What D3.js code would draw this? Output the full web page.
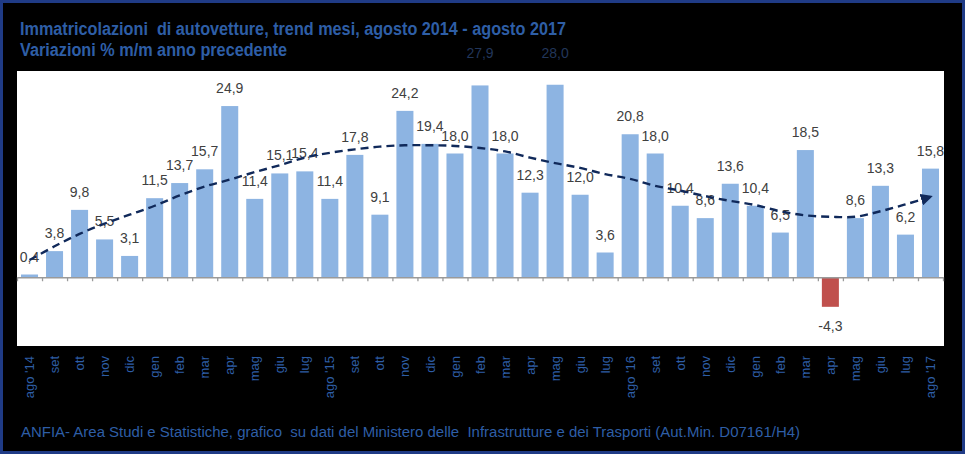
<!DOCTYPE html>
<html>
<head>
<meta charset="utf-8">
<script src="https://cdn.jsdelivr.net/npm/d3@7"></script>
<style>
  body { margin: 0; background: #000; }
  svg { display: block; }
</style>
</head>
<body>
<div id="chart"></div>
<script>
// months on the x axis
var months = ["ago '14", "set", "ott", "nov", "dic", "gen", "feb", "mar", "apr", "mag", "giu", "lug",
              "ago '15", "set", "ott", "nov", "dic", "gen", "feb", "mar", "apr", "mag", "giu", "lug",
              "ago '16", "set", "ott", "nov", "dic", "gen", "feb", "mar", "apr", "mag", "giu", "lug",
              "ago '17"];

// % change vs same month of previous year
var values = [0.4, 3.8, 9.8, 5.5, 3.1, 11.5, 13.7, 15.7, 24.9, 11.4, 15.1, 15.4,
              11.4, 17.8, 9.1, 24.2, 19.4, 18.0, 27.9, 18.0, 12.3, 28.0, 12.0, 3.6,
              20.8, 18.0, 10.4, 8.6, 13.6, 10.4, 6.5, 18.5, -4.3, 8.6, 13.3, 6.2,
              15.8];

// dashed trend arrow
var trend = [2.5, 4.5, 6.3, 7.8, 9.1, 10.4, 11.9, 13.2, 14.2, 15.3, 16.3, 17.4,
             18.1, 18.6, 19.0, 19.2, 19.2, 19.1, 18.8, 18.3, 17.4, 16.6, 15.9, 15.0,
             14.3, 13.3, 12.6, 11.8, 11.1, 10.5, 9.6, 9.0, 8.8, 8.8, 9.6, 10.6,
             11.7];

var yDomain = [-10, 30];

var width = 965, height = 454;
var plot = {left: 17, right: 944, top: 71, bottom: 346};

var it = d3.formatLocale({decimal: ",", thousands: ".", grouping: [3], currency: ["", "€"], minus: "-"});
var fmt = it.format(".1f");

var svg = d3.select("#chart").append("svg")
    .attr("width", width)
    .attr("height", height);

// background + frame
svg.append("rect")
    .attr("width", width).attr("height", height)
    .attr("fill", "#000");
svg.append("rect")
    .attr("x", 1.5).attr("y", 1.5)
    .attr("width", width - 3).attr("height", height - 3)
    .attr("fill", "none")
    .attr("stroke", "#1f3b86")
    .attr("stroke-width", 3);

// plot area
svg.append("rect")
    .attr("x", plot.left).attr("y", plot.top)
    .attr("width", plot.right - plot.left)
    .attr("height", plot.bottom - plot.top)
    .attr("fill", "#fff");

var axisEnd = 943;

var x = d3.scaleBand()
    .domain(d3.range(months.length))
    .range([plot.left, axisEnd])
    .paddingInner(0.32)
    .paddingOuter(0.16);

var xi = d3.scaleLinear()
    .domain([0, months.length])
    .range([plot.left, axisEnd]);

var y = d3.scaleLinear()
    .domain(yDomain)
    .range([plot.bottom, plot.top]);

var cx = function(i) { return x(i) + x.bandwidth() / 2; };

// bars
svg.append("g")
    .selectAll("rect")
    .data(values)
    .enter()
    .append("rect")
    .attr("x", (d, i) => x(i))
    .attr("y", d => y(Math.max(0, d)))
    .attr("width", x.bandwidth())
    .attr("height", d => Math.abs(y(d) - y(0)))
    .attr("fill", d => d < 0 ? "#c0504d" : "#8db4e2");

// axis at zero, ticks between months
var xAxis = d3.axisBottom(xi)
    .tickValues(d3.range(months.length + 1))
    .tickFormat("")
    .tickSize(4)
    .tickSizeOuter(0);

var ax = svg.append("g")
    .attr("transform", "translate(0," + y(0) + ")")
    .call(xAxis);
ax.select(".domain").attr("stroke", "#9a9a9a").attr("stroke-width", 1.6);
ax.selectAll(".tick line").attr("stroke", "#9a9a9a").attr("stroke-width", 1.3);

// value labels
svg.append("g")
    .selectAll("text")
    .data(values)
    .enter()
    .append("text")
    .attr("x", (d, i) => cx(i))
    .attr("y", function(d) {
        if (d < 0) return y(d) + 24;
        var ty = y(d) - 13;
        return ty < plot.top + 14 ? y(d) - 27 : ty;
    })
    .attr("text-anchor", "middle")
    .attr("font-family", "Liberation Sans, Arial, sans-serif")
    .attr("font-size", 14)
    .attr("fill", d => y(d) - 13 < plot.top + 14 ? "#22365a" : "#404040")
    .text(d => fmt(d));

// trend arrow
var defs = svg.append("defs");
defs.append("marker")
    .attr("id", "arrow")
    .attr("viewBox", "0 0 10 10")
    .attr("refX", 8)
    .attr("refY", 5)
    .attr("markerWidth", 5)
    .attr("markerHeight", 5)
    .attr("markerUnits", "strokeWidth")
    .attr("orient", "auto")
    .append("path")
    .attr("d", "M0,0 L10,5 L0,10 z")
    .attr("fill", "#10295a");

var line = d3.line()
    .x((d, i) => cx(i))
    .y(d => y(d))
    .curve(d3.curveCatmullRom);

svg.append("path")
    .datum(trend)
    .attr("d", line)
    .attr("fill", "none")
    .attr("stroke", "#10295a")
    .attr("stroke-width", 2.4)
    .attr("stroke-dasharray", "8,5")
    .attr("marker-end", "url(#arrow)");

// month labels
svg.append("g")
    .selectAll("text")
    .data(months)
    .enter()
    .append("text")
    .attr("transform", (d, i) => "translate(" + cx(i) + ",356) rotate(-90)")
    .attr("text-anchor", "end")
    .attr("dy", "0.35em")
    .attr("font-family", "Liberation Sans, Arial, sans-serif")
    .attr("font-size", 13)
    .attr("fill", "#2e5ea6")
    .text(d => d);

// titles
var titleFont = "'Liberation Sans Narrow', 'Arial Narrow', 'Liberation Sans', Arial, sans-serif";
svg.append("text")
    .attr("x", 20).attr("y", 35)
    .attr("font-family", titleFont)
    .attr("font-weight", "bold")
    .attr("font-size", 18)
    .attr("fill", "#2e5ea6")
    .attr("textLength", 546)
    .attr("lengthAdjust", "spacingAndGlyphs")
    .style("white-space", "pre")
    .text("Immatricolazioni  di autovetture, trend mesi, agosto 2014 - agosto 2017");

svg.append("text")
    .attr("x", 20).attr("y", 56)
    .attr("font-family", titleFont)
    .attr("font-weight", "bold")
    .attr("font-size", 18)
    .attr("fill", "#2e5ea6")
    .attr("textLength", 267)
    .attr("lengthAdjust", "spacingAndGlyphs")
    .style("white-space", "pre")
    .text("Variazioni % m/m anno precedente");

// source note
svg.append("text")
    .attr("x", 21).attr("y", 437)
    .attr("font-family", titleFont)
    .attr("font-size", 14)
    .attr("fill", "#2e5ea6")
    .attr("textLength", 779)
    .attr("lengthAdjust", "spacingAndGlyphs")
    .style("white-space", "pre")
    .text("ANFIA- Area Studi e Statistiche, grafico  su dati del Ministero delle  Infrastrutture e dei Trasporti (Aut.Min. D07161/H4)");
</script>
</body>
</html>
